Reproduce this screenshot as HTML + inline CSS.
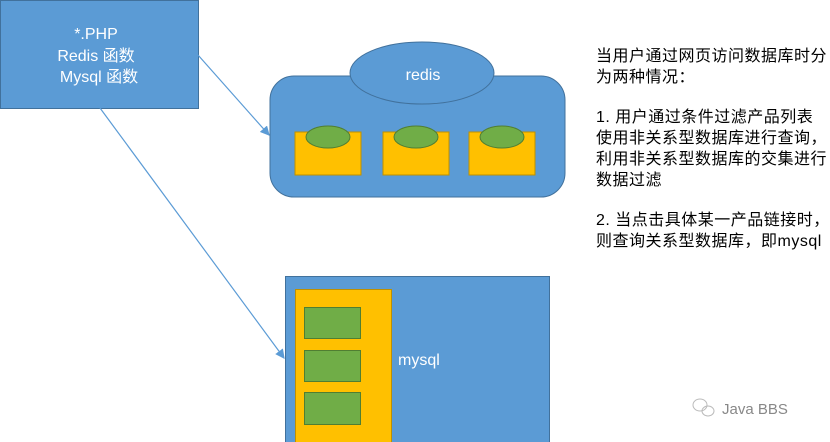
<!DOCTYPE html>
<html><head><meta charset="utf-8"><style>
body{margin:0;width:830px;height:442px;background:#fff;overflow:hidden;position:relative;font-family:"Liberation Sans","Noto Sans CJK SC",sans-serif}
.t{position:absolute;left:596px;font-size:16px;letter-spacing:0.5px;color:#000;line-height:21px;white-space:nowrap}
</style></head><body>
<svg width="830" height="442" style="position:absolute;left:0;top:0">
<defs><marker id="a" markerWidth="8" markerHeight="8" refX="7" refY="4" orient="auto"><path d="M0,0 L8,4 L0,8 z" fill="#5b9bd5"/></marker></defs>
<rect x="0.5" y="0.5" width="198" height="108" fill="#5b9bd5" stroke="#41719c"/>
<text fill="#fff" font-size="16" text-anchor="middle" font-family="Liberation Sans,Noto Sans CJK SC,sans-serif"><tspan x="96" y="39">*.PHP</tspan><tspan x="96" y="61">Redis  函数</tspan><tspan x="99" y="82">Mysql  函数</tspan></text>
<rect x="270" y="76" width="295" height="121" rx="24" fill="#5b9bd5" stroke="#41719c"/>
<ellipse cx="422" cy="73" rx="72" ry="31" fill="#5b9bd5" stroke="#41719c"/>
<text x="423" y="80" fill="#fff" font-size="16" text-anchor="middle" font-family="Liberation Sans,sans-serif">redis</text>
<g fill="#ffc000" stroke="#bf9000"><rect x="295" y="132" width="66" height="43"/><rect x="383" y="132" width="66" height="43"/><rect x="469" y="132" width="66" height="43"/></g>
<g fill="#70ad47" stroke="#507e32"><ellipse cx="328" cy="137" rx="22" ry="11"/><ellipse cx="416" cy="137" rx="22" ry="11"/><ellipse cx="502" cy="137" rx="22" ry="11"/></g>
<rect x="285.5" y="276.5" width="264" height="170" fill="#5b9bd5" stroke="#41719c"/>
<rect x="295.5" y="289.5" width="96" height="160" fill="#ffc000" stroke="#bf9000"/>
<g fill="#70ad47" stroke="#507e32"><rect x="304.5" y="307.5" width="56" height="31"/><rect x="304.5" y="350.5" width="56" height="31"/><rect x="304.5" y="392.5" width="56" height="32"/></g>
<text x="398" y="365" fill="#fff" font-size="16" font-family="Liberation Sans,sans-serif">mysql</text>
<line x1="198" y1="55" x2="269" y2="135" stroke="#5b9bd5" stroke-width="1.2" marker-end="url(#a)"/>
<line x1="100" y1="108" x2="284" y2="358" stroke="#5b9bd5" stroke-width="1.2" marker-end="url(#a)"/>
<text x="722" y="414" fill="#888" font-size="15" font-family="Liberation Sans,sans-serif">Java BBS</text>
<g fill="none" stroke="#bbb"><ellipse cx="700" cy="405" rx="7" ry="6"/><ellipse cx="708" cy="411" rx="6" ry="5"/></g>
</svg>
<div class="t" style="top:46px">当用户通过网页访问数据库时分</div>
<div class="t" style="top:67px">为两种情况：</div>
<div class="t" style="top:107px">1. 用户通过条件过滤产品列表</div>
<div class="t" style="top:128px">使用非关系型数据库进行查询，</div>
<div class="t" style="top:149px">利用非关系型数据库的交集进行</div>
<div class="t" style="top:170px">数据过滤</div>
<div class="t" style="top:210px">2. 当点击具体某一产品链接时，</div>
<div class="t" style="top:231px">则查询关系型数据库，即mysql</div>
</body></html>
